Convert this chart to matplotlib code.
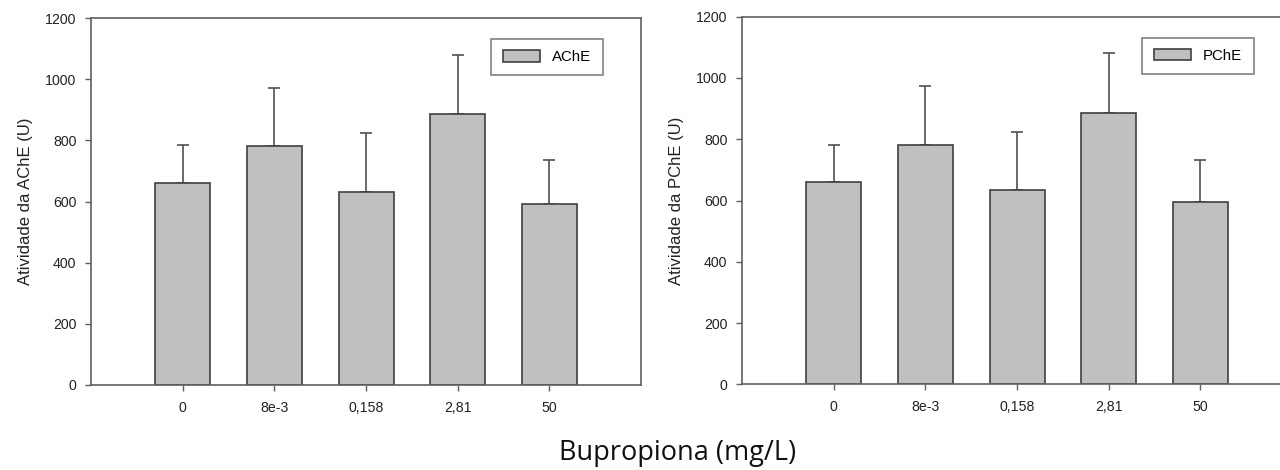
import matplotlib
matplotlib.use("Agg")
import matplotlib.pyplot as plt
import numpy as np

concentrations = ["0", "8e-3", "0,158", "2,81", "50"]

ache_mean = [660, 780, 631, 885, 592]
ache_err = [124, 192, 193, 193, 143]

pche_mean = [660, 782, 633, 885, 594]
pche_err = [122, 192, 190, 195, 139]

plt.rcParams['font.family'] = ['Liberation Sans', 'DejaVu Sans']

W, H = 1280, 470
fig = plt.figure(figsize=(W / 100, H / 100), dpi=100)

spine_color = '#606060'
bar_color = '#c0c0c0'
edge_color = '#404040'


def draw_panel(ax, means, errs, label, ylabel):
    x = np.arange(len(concentrations))
    ax.bar(x, means, width=0.6, color=bar_color, edgecolor=edge_color,
           linewidth=1.2, label=label, zorder=2)
    ax.errorbar(x, means, yerr=[np.zeros(len(errs)), errs], fmt='none',
                ecolor='#505050', elinewidth=1.2, capsize=4, capthick=1.2,
                zorder=1)
    ax.set_xlim(-1, 5)
    ax.set_ylim(0, 1200)
    ax.set_yticks(range(0, 1201, 200))
    ax.set_xticks(x)
    ax.set_xticklabels(concentrations)
    ax.tick_params(axis='both', direction='out', length=4.5, width=1,
                   color=spine_color, labelsize=10.2, labelcolor='#222222')
    ax.tick_params(axis='x', pad=7)
    ax.tick_params(axis='y', pad=6)
    for s in ax.spines.values():
        s.set_color(spine_color)
        s.set_linewidth(1.2)
    ax.set_ylabel(ylabel, fontsize=12, color='#222222', labelpad=9)
    leg = ax.legend(loc='upper right', bbox_to_anchor=(0.93, 0.943),
                    borderaxespad=0, fontsize=10.8, frameon=True,
                    fancybox=False, handlelength=2.5, handleheight=0.8,
                    borderpad=0.75, handletextpad=0.8,
                    edgecolor=spine_color)
    leg.get_frame().set_linewidth(1.2)


# left panel
ax1 = fig.add_axes([91 / W, 1 - 385 / H, 550 / W, 367 / H])
draw_panel(ax1, ache_mean, ache_err, 'AChE', 'Atividade da AChE (U)')

# right panel, cut off at the right edge of the image
ax2 = fig.add_axes([742 / W, 1 - 384.3 / H, 550 / W, 367.6 / H])
draw_panel(ax2, pche_mean, pche_err, 'PChE', 'Atividade da PChE (U)')

fig.text(678 / W, 1 - 460 / H, 'Bupropiona (mg/L)', ha='center',
         va='baseline', fontsize=19.5, family=['Open Sans', 'DejaVu Sans'],
         color='#111111')

fig.savefig('out.png', dpi=100)
